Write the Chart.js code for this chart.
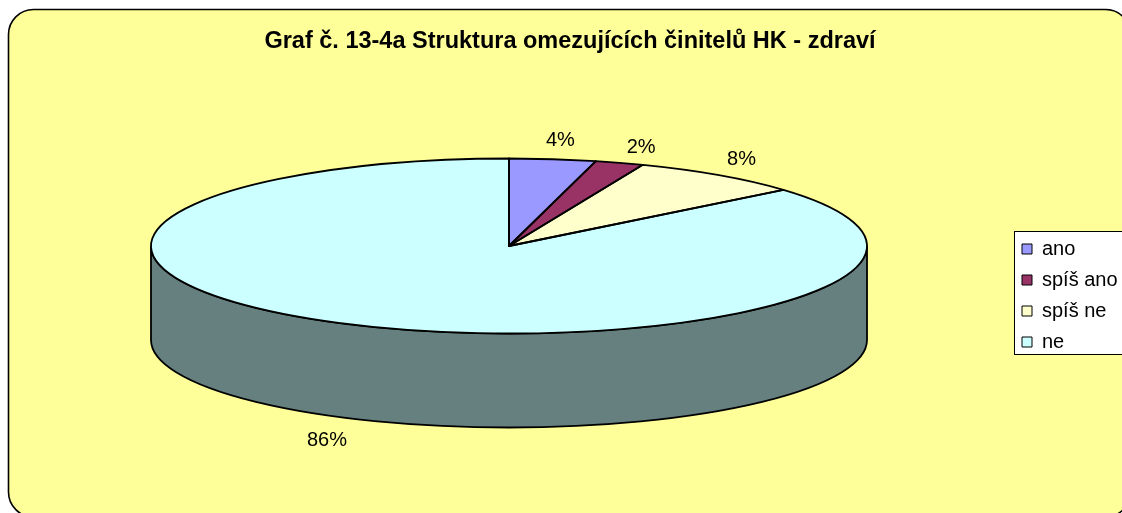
<!DOCTYPE html>
<html lang="cs">
<head>
<meta charset="utf-8">
<title>Graf č. 13-4a</title>
<script src="https://cdn.jsdelivr.net/npm/chart.js@4"></script>
<style>
    html, body { margin: 0; padding: 0; background: #fff; overflow: hidden; }
    #obal { position: relative; width: 1122px; height: 513px; }
</style>
</head>
<body>
<div id="obal"><canvas id="graf"></canvas></div>
<script>
// data
const kategorie = ['ano', 'spíš ano', 'spíš ne', 'ne'];
const hodnoty = [3.9, 2.2, 7.8, 86.1];
const popisky = ['4%', '2%', '8%', '86%'];
const barvy = ['#9999ff', '#993366', '#ffffcc', '#ccffff'];
const barvyBoku = ['#4d4d80', '#4d1a33', '#808066', '#668080'];
const nadpis = 'Graf č. 13-4a Struktura omezujících činitelů HK - zdraví';

// ellipse the flat pie gets squashed on to
const elipsa = { x: 509, y: 246, rx: 358, ry: 87.5, hloubka: 94 };
const posunX = [0, 2, -15, -4];
const posunY = [1, 4, 0, 3];

const FONT = '"Liberation Sans", Arial, sans-serif';

function cestaRamu(ctx) {
    ctx.beginPath();
    ctx.roundRect(8.5, 9.5, 1122, 507.5, 25);
}

const pie3d = {
    id: 'pie3d',
    beforeDraw(chart) {
        const ctx = chart.ctx;
        ctx.save();
        cestaRamu(ctx);
        ctx.fillStyle = '#ffff99';
        ctx.fill();
        ctx.lineWidth = 1.6;
        ctx.strokeStyle = '#000';
        ctx.stroke();
        // legend box
        ctx.fillStyle = '#fff';
        ctx.lineWidth = 1;
        ctx.fillRect(1014.5, 231.5, 120, 123);
        ctx.strokeRect(1014.5, 231.5, 120, 123);
        ctx.restore();
    },
    afterLayout(chart) {
        // legend sits in its own box, not where the layout wants it
        const l = chart.legend;
        const w = l.width, h = l.height;
        l.left = 1011; l.top = 228;
        l.right = l.left + w; l.bottom = l.top + h;
    },
    beforeDatasetsDraw(chart) {
        const ctx = chart.ctx;
        const e = elipsa;
        const oblouky = chart.getDatasetMeta(0).data;
        // side wall, only the front half can be seen
        ctx.save();
        ctx.lineWidth = 1.8;
        ctx.strokeStyle = '#000';
        oblouky.forEach((a, i) => {
            const od = Math.max(a.startAngle, 0);
            const po = Math.min(a.endAngle, Math.PI);
            if (po <= od) return;
            ctx.beginPath();
            ctx.ellipse(e.x, e.y, e.rx, e.ry, 0, od, po);
            ctx.ellipse(e.x, e.y + e.hloubka, e.rx, e.ry, 0, po, od, true);
            ctx.closePath();
            ctx.fillStyle = barvyBoku[i];
            ctx.fill();
            ctx.stroke();
        });
        ctx.restore();

        const a0 = oblouky[0];
        ctx.save();
        ctx.translate(e.x, e.y);
        ctx.scale(e.rx / a0.outerRadius, e.ry / a0.outerRadius);
        ctx.translate(-a0.x, -a0.y);
    },
    afterDatasetsDraw(chart) {
        const ctx = chart.ctx;
        const e = elipsa;
        ctx.restore();
        const oblouky = chart.getDatasetMeta(0).data;
        ctx.save();
        ctx.lineWidth = 1.8;
        ctx.strokeStyle = '#000';
        ctx.lineJoin = 'round';
        oblouky.forEach((a) => {
            ctx.beginPath();
            ctx.moveTo(e.x, e.y);
            ctx.ellipse(e.x, e.y, e.rx, e.ry, 0, a.startAngle, a.endAngle);
            ctx.closePath();
            ctx.stroke();
        });
        // percent labels around the ellipse
        ctx.fillStyle = '#000';
        ctx.font = '20px ' + FONT;
        ctx.textAlign = 'center';
        ctx.textBaseline = 'middle';
        oblouky.forEach((a, i) => {
            const stred = (a.startAngle + a.endAngle) / 2;
            const x = e.x + (e.rx + 63) * Math.cos(stred) + posunX[i];
            let y = e.y + (e.ry + 20) * Math.sin(stred) + posunY[i];
            if (Math.sin(stred) > 0) y += e.hloubka;
            ctx.fillText(popisky[i], x, y);
        });
        ctx.restore();
    }
};

new Chart(document.getElementById('graf'), {
    type: 'pie',
    data: {
        labels: kategorie,
        datasets: [{
            data: hodnoty,
            backgroundColor: barvy,
            borderWidth: 0,
            clip: false
        }]
    },
    options: {
        responsive: true,
        maintainAspectRatio: false,
        animation: false,
        layout: { padding: { left: 18, top: 27 } },
        plugins: {
            tooltip: { enabled: false },
            title: {
                display: true,
                text: nadpis,
                color: '#000',
                font: { family: FONT, size: 23.5, weight: 'bold' },
                padding: 0
            },
            legend: {
                position: 'right',
                align: 'start',
                labels: {
                    color: '#000',
                    font: { family: FONT, size: 20 },
                    boxWidth: 10,
                    boxHeight: 10,
                    padding: 11,
                    generateLabels(chart) {
                        return kategorie.map((k, i) => ({
                            text: k,
                            fillStyle: barvy[i],
                            strokeStyle: '#000',
                            lineWidth: 1,
                            index: i
                        }));
                    }
                }
            }
        }
    },
    plugins: [pie3d]
});
</script>
</body>
</html>
